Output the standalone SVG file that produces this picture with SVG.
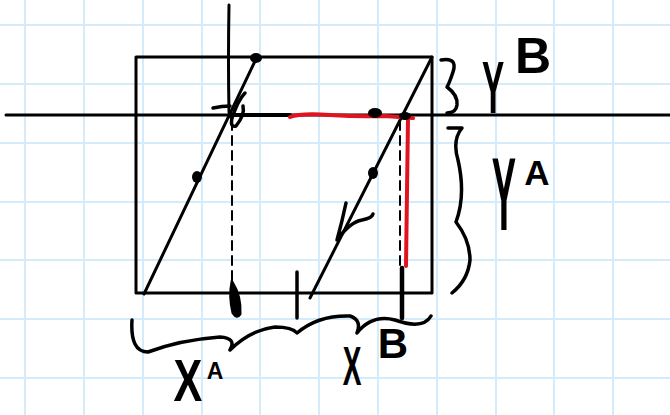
<svg xmlns="http://www.w3.org/2000/svg" width="670" height="415" viewBox="0 0 670 415">
<style>
.grid{stroke:#d3ebfb;stroke-width:2;}
.ln{fill:none;stroke:#000;stroke-width:3;stroke-linecap:round;stroke-linejoin:round;}
.hand{fill:none;stroke:#000;stroke-width:3.5;stroke-linecap:round;stroke-linejoin:round;}
.dash{fill:none;stroke:#000;stroke-width:2;stroke-dasharray:9 6;stroke-linecap:round;}
.red{fill:none;stroke:#e0141e;stroke-width:4;stroke-linecap:round;stroke-linejoin:round;}
.lbl{font-family:"Liberation Sans","DejaVu Sans",sans-serif;font-weight:bold;fill:#000;}
</style>
<rect width="670" height="415" fill="#fff"/>
<g id="grid">
<path class="grid" d="M25,0V415M84,0V415M143,0V415M202,0V415M260,0V415M319,0V415M378,0V415M437,0V415M496,0V415M554,0V415M613,0V415"/>
<path class="grid" d="M0,25H670M0,84H670M0,143H670M0,202H670M0,260H670M0,319H670M0,378H670"/>
</g>
<g id="box"><rect x="136" y="57" width="296" height="236" class="ln"/></g>
<g id="axes">
<path class="ln" d="M6,115H670"/>
<path class="ln" d="M229,5Q228,60 229,112Q230,118 232,118"/>
<path class="hand" d="M230,115H290" style="stroke-width:4"/>
</g>
<g id="connectors">
<path class="ln" d="M144,294L257,57"/>
<path class="ln" d="M310,298L432,57"/>
<path class="hand" d="M346,203Q342,222 337,240Q350,222 362,220Q372,218 373,214"/>
<path class="hand" d="M213,108Q222,106 230,106M245,93Q238,100 232,118Q230,128 236,126Q245,115 243,106"/>
<path class="dash" d="M232,121V282"/>
<path class="dash" d="M400,121V265"/>
<path class="red" d="M290,117Q300,113 330,115Q360,117 385,116L413,118"/>
<path class="red" d="M408,118L406,266"/>
</g>
<g id="marks">
<ellipse cx="256" cy="58" rx="6" ry="5"/>
<ellipse cx="197" cy="177" rx="5" ry="6"/>
<ellipse cx="373" cy="173" rx="5" ry="6"/>
<ellipse cx="375" cy="113" rx="7" ry="5"/>
<ellipse cx="405" cy="116" rx="6" ry="4"/>
<path d="M232,282Q241,296 240,314Q237,319 233,313Q229,296 232,282Z" stroke="#000" stroke-width="3"/>
<path class="hand" d="M402,268V318" style="stroke-width:4.5"/>
<path class="hand" d="M297,272V318"/>
</g>
<g id="braces">
<path class="hand" d="M132,320Q130,352 148,352Q180,340 220,337Q237,338 230,350Q250,330 275,327Q292,327 297,333Q318,315 350,316Q362,320 357,333Q372,314 395,320Q423,330 431,316"/>
<path class="hand" d="M441,60Q458,57 453,72Q449,84 447,87Q458,95 457,105Q456,113 447,113"/>
<path class="hand" d="M448,128L462,128Q452,140 458,160Q466,195 456,222Q470,240 470,260Q468,280 452,293"/>
</g>
<g id="labels">
<text class="lbl" transform="translate(188,401) scale(0.72,1)" font-size="60" text-anchor="middle">X</text>
<text class="lbl" x="215" y="379" font-size="23" text-anchor="middle">A</text>
<text class="lbl" transform="translate(352,385) scale(0.5,1)" font-size="56" text-anchor="middle">X</text>
<text class="lbl" x="393" y="358" font-size="42" text-anchor="middle">B</text>
<text class="lbl" transform="translate(493,113) scale(0.45,1)" font-size="74" text-anchor="middle">Y</text>
<text class="lbl" x="533" y="73" font-size="50" text-anchor="middle">B</text>
<text class="lbl" transform="translate(504,230) scale(0.35,1)" font-size="104" text-anchor="middle">Y</text>
<text class="lbl" x="537" y="185" font-size="35" text-anchor="middle">A</text>
</g>
</svg>
